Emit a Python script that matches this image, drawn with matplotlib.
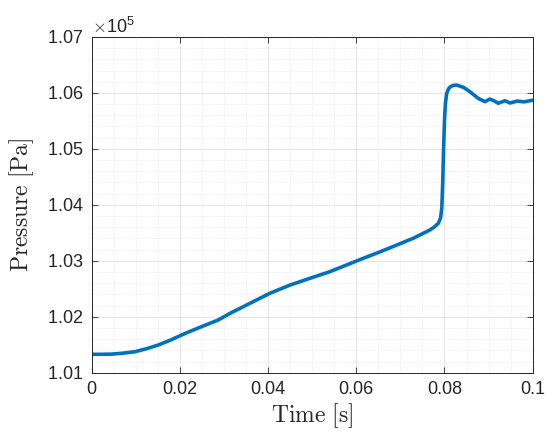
import matplotlib
matplotlib.use("Agg")
import matplotlib.pyplot as plt
from matplotlib.ticker import ScalarFormatter, MultipleLocator

# Data (time in s, pressure in Pa)
time_s = [0.0, 0.0023, 0.0045, 0.0070, 0.0098, 0.0125, 0.0151, 0.0178, 0.0204,
          0.0225, 0.0249, 0.0287, 0.0314, 0.0359, 0.0404, 0.0450, 0.0495, 0.0540,
          0.0578, 0.0616, 0.0654, 0.0692, 0.0730, 0.0767, 0.0778, 0.0786, 0.0791,
          0.0794, 0.0796, 0.0798, 0.0800, 0.0802, 0.0805, 0.0809, 0.0813, 0.0820,
          0.0828, 0.0843, 0.0858, 0.0877, 0.0892, 0.0903, 0.0912, 0.0922, 0.0937,
          0.0949, 0.0965, 0.0980, 0.1000]
pressure_pa = [101329, 101329, 101332, 101348, 101375, 101430, 101495, 101580, 101674,
               101745, 101822, 101942, 102062, 102240, 102419, 102567, 102687, 102805,
               102925, 103045, 103160, 103282, 103405, 103551, 103610, 103670, 103760,
               103950, 104400, 105000, 105500, 105800, 105990, 106070, 106110, 106135,
               106140, 106100, 106020, 105900, 105844, 105890, 105860, 105815, 105860,
               105820, 105855, 105840, 105870]

xticks = [0, 0.02, 0.04, 0.06, 0.08, 0.1]
xticklabels = ["0", "0.02", "0.04", "0.06", "0.08", "0.1"]
yticks = [101000, 102000, 103000, 104000, 105000, 106000, 107000]

plt.rcParams['mathtext.fontset'] = 'cm'
fig = plt.figure(figsize=(5.47, 4.36), dpi=100)
ax = fig.add_axes([0.1676, 0.1452, 0.8062, 0.770])

ax.plot(time_s, pressure_pa, color='#0072BD', linewidth=2.6,
        solid_joinstyle='round', solid_capstyle='round')

ax.set_xlim(0, 0.1)
ax.set_ylim(101000, 107000)
ax.set_xticks(xticks)
ax.set_xticklabels(xticklabels)
ax.set_yticks(yticks)
fmt = ScalarFormatter(useMathText=True, useOffset=False)
fmt.set_powerlimits((0, 0))
ax.yaxis.set_major_formatter(fmt)
ax.xaxis.set_minor_locator(MultipleLocator(0.005))
ax.yaxis.set_minor_locator(MultipleLocator(200))

ax.grid(True, which='major', color='#e0e0e0', linewidth=0.6, linestyle='-')
ax.grid(True, which='minor', color='#e4e4e4', linewidth=0.6, linestyle=':')
ax.set_axisbelow(True)

for lab in ax.get_xticklabels() + ax.get_yticklabels():
    lab.set_fontfamily('Liberation Sans')
    lab.set_fontsize(13)
    lab.set_color('#262626')
ax.yaxis.get_offset_text().set_fontfamily('Liberation Sans')
ax.yaxis.get_offset_text().set_fontsize(13)
ax.yaxis.get_offset_text().set_color('#262626')

ax.tick_params(which='both', direction='in', top=True, right=True, color='#262626')
ax.tick_params(which='major', length=4, width=0.6, pad=6)
ax.tick_params(which='minor', length=0)
for s in ax.spines.values():
    s.set_color('#262626')
    s.set_linewidth(0.7)

ax.set_xlabel(r'$\mathrm{Time\ [s]}$', fontsize=17, color='#262626', labelpad=2)
ax.set_ylabel(r'$\mathrm{Pressure\ [Pa]}$', fontsize=17, color='#262626', labelpad=8)

fig.savefig('out.png', dpi=100)
